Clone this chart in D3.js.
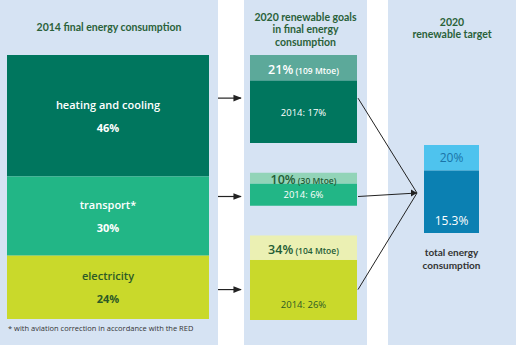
<!DOCTYPE html>
<html><head><meta charset="utf-8">
<script src="https://cdn.jsdelivr.net/npm/d3@7"></script>
<style>
html,body{margin:0;padding:0;background:#fff;}
svg{display:block;font-family:"Open Sans","Noto Sans",sans-serif;}
</style></head>
<body><svg id="c" width="517" height="348"></svg>
<script>
// ---- data ----
const categories = ["heating and cooling", "transport*", "electricity"];
const share2014 = [46, 30, 24];          // % of 2014 final energy consumption
const goal2020 = [21, 10, 34];           // 2020 renewable goal, %
const goalMtoe = [109, 30, 104];         // 2020 goal, Mtoe
const actual2014 = [17, 6, 26];          // 2014 renewable share, %
const totalTarget = 20;                  // 2020 renewable target, %
const totalActual = 15.3;                // 2014 renewable share total, %
const panelTitles = [
  ["2014 final energy consumption"],
  ["2020 renewable goals", "in final energy", "consumption"],
  ["2020", "renewable target"]
];
const footnote = "* with aviation correction in accordance with the RED";
const totalLabel = ["total energy", "consumption"];

// ---- styles ----
const panelBg = "#d6e3f3";
const titleColor = "#2a6139";
const darkCol = ["#00765e", "#22b686", "#c9d92b"];
const lightCol = ["#5ca99a", "#92d4b8", "#ebf0b3"];
const textCol = ["#ffffff", "#ffffff", "#2d5a26"];
const goalTextCol = ["#ffffff", "#245c35", "#245c35"];
const blueLight = "#4ec3ee", blueDark = "#0b80b2";

const svg = d3.select("#c");
const defs = svg.append("defs");
defs.append("marker").attr("id", "ah").attr("viewBox", "0 0 10 10")
  .attr("refX", 9).attr("refY", 5).attr("markerWidth", 7).attr("markerHeight", 7)
  .attr("orient", "auto").append("path").attr("d", "M0,1 L10,5 L0,9 Z").attr("fill", "#222");

// panels
const panelX = d3.scaleOrdinal().domain([0, 1, 2]).range([[0, 218], [244, 367], [388, 516]]);
[0, 1, 2].forEach(i => {
  const [x0, x1] = panelX(i);
  svg.append("rect").attr("x", x0).attr("y", 0).attr("width", x1 - x0).attr("height", 345).attr("fill", panelBg);
});

// titles
const titleY0 = [27, 17, 22];
panelTitles.forEach((lines, i) => {
  const [x0, x1] = panelX(i);
  const cx = (x0 + x1) / 2;
  lines.forEach((s, j) => {
    svg.append("text").attr("x", cx).attr("y", titleY0[i] + j * 12.7).attr("dy", "0.35em")
      .attr("text-anchor", "middle").attr("font-family", "Lato, 'Open Sans', sans-serif")
      .attr("font-size", 10.5).attr("font-weight", 700)
      .attr("fill", titleColor).text(s);
  });
});

// ---- panel 1: stacked share ----
const y1 = d3.scaleLinear().domain([0, 100]).range([55, 319]);
const x1a = 7, x1b = 209;
let cum = 0;
const rows1 = share2014.map((v, i) => { const r = { i, v, y0: cum, y1: cum + v }; cum += v; return r; });
svg.selectAll(".b1").data(rows1).join("rect")
  .attr("x", x1a).attr("width", x1b - x1a)
  .attr("y", d => y1(d.y0)).attr("height", d => y1(d.y1) - y1(d.y0))
  .attr("fill", d => darkCol[d.i]);
rows1.forEach(d => {
  const cy = (y1(d.y0) + y1(d.y1)) / 2;
  svg.append("text").attr("x", (x1a + x1b) / 2).attr("y", cy - 11).attr("dy", "0.35em")
    .attr("text-anchor", "middle").attr("font-size", 11).attr("font-weight", 600)
    .attr("fill", textCol[d.i]).text(categories[d.i]);
  svg.append("text").attr("x", (x1a + x1b) / 2).attr("y", cy + 12).attr("dy", "0.35em")
    .attr("text-anchor", "middle").attr("font-size", 11).attr("font-weight", 700)
    .attr("fill", textCol[d.i]).text(d.v + "%");
});
svg.append("text").attr("x", 8).attr("y", 328).attr("dy", "0.35em")
  .attr("font-size", 7.5).attr("fill", "#333").text(footnote);

// ---- panel 2: goals ----
const hScale = d3.scaleLinear().domain([30, 109]).range([33, 88]);
const headFrac = 0.29;
const x2a = 250, x2b = 357;
const blocks = goalMtoe.map((m, i) => ({ i, h: hScale(m) }));
blocks[0].top = y1(0);
blocks[2].top = y1(100) + 1 - blocks[2].h;
const gapMid = (blocks[0].top + blocks[0].h + blocks[2].top) / 2;
blocks[1].top = gapMid - blocks[1].h / 2;
blocks.forEach(b => { b.head = Math.max(b.h * headFrac, 11); });

blocks.forEach(b => {
  svg.append("rect").attr("x", x2a).attr("y", b.top).attr("width", x2b - x2a).attr("height", b.head).attr("fill", lightCol[b.i]);
  svg.append("rect").attr("x", x2a).attr("y", b.top + b.head).attr("width", x2b - x2a).attr("height", b.h - b.head).attr("fill", darkCol[b.i]);
  const t = svg.append("text").attr("x", (x2a + x2b) / 2).attr("y", b.top + b.head / 2 + 0.5).attr("dy", "0.35em")
    .attr("text-anchor", "middle").attr("fill", goalTextCol[b.i]);
  t.append("tspan").attr("font-size", 12.5).attr("font-weight", 600).text(goal2020[b.i] + "%");
  t.append("tspan").attr("font-size", 8.5).attr("font-weight", 600).text(" (" + goalMtoe[b.i] + " Mtoe)");
});
const actFrac = [0.52, 0.5, 0.75];
blocks.forEach(b => {
  const dt = b.top + b.head, dh = b.h - b.head;
  svg.append("text").attr("x", (x2a + x2b) / 2).attr("y", dt + dh * actFrac[b.i]).attr("dy", "0.35em")
    .attr("text-anchor", "middle").attr("font-size", 9.5).attr("fill", textCol[b.i])
    .text("2014: " + actual2014[b.i] + "%");
});

// arrows panel1 -> panel2
const anchorFrac = [0.49, 0.72, 0.64];
blocks.forEach(b => { b.ay = b.top + b.h * anchorFrac[b.i]; });
blocks.forEach(b => {
  svg.append("line").attr("x1", 218).attr("x2", 241).attr("y1", b.ay).attr("y2", b.ay)
    .attr("stroke", "#222").attr("stroke-width", 1.2).attr("marker-end", "url(#ah)");
});

// ---- panel 3: total target ----
const x3a = 424, x3b = 479;
const h3 = hScale(d3.max(goalMtoe));
const top3 = 145;
const head3 = h3 * headFrac;
svg.append("rect").attr("x", x3a).attr("y", top3).attr("width", x3b - x3a).attr("height", head3).attr("fill", blueLight);
svg.append("rect").attr("x", x3a).attr("y", top3 + head3).attr("width", x3b - x3a).attr("height", h3 - head3).attr("fill", blueDark);
svg.append("text").attr("x", (x3a + x3b) / 2).attr("y", top3 + head3 / 2).attr("dy", "0.35em")
  .attr("text-anchor", "middle").attr("font-size", 12).attr("fill", "#1a74a8").text(totalTarget + "%");
svg.append("text").attr("x", (x3a + x3b) / 2).attr("y", top3 + h3 - 12).attr("dy", "0.35em")
  .attr("text-anchor", "middle").attr("font-size", 12).attr("fill", "#fff").text(totalActual + "%");
totalLabel.forEach((s, j) => {
  svg.append("text").attr("x", (x3a + x3b) / 2).attr("y", 252 + j * 13).attr("dy", "0.35em")
    .attr("text-anchor", "middle").attr("font-family", "Lato, 'Open Sans', sans-serif")
    .attr("font-size", 10).attr("font-weight", 700).attr("fill", "#333").text(s);
});

// converging lines
const tip = [417, top3 + h3 / 2 + 4];
blocks.forEach(b => {
  svg.append("line").attr("x1", x2b + 1).attr("y1", b.ay).attr("x2", tip[0]).attr("y2", tip[1])
    .attr("stroke", "#222").attr("stroke-width", 1);
});
svg.append("path").attr("d", `M${tip[0] - 6},${tip[1] - 3.5} L${tip[0]},${tip[1]} L${tip[0] - 6},${tip[1] + 3.5} Z`).attr("fill", "#222");
</script></body></html>
